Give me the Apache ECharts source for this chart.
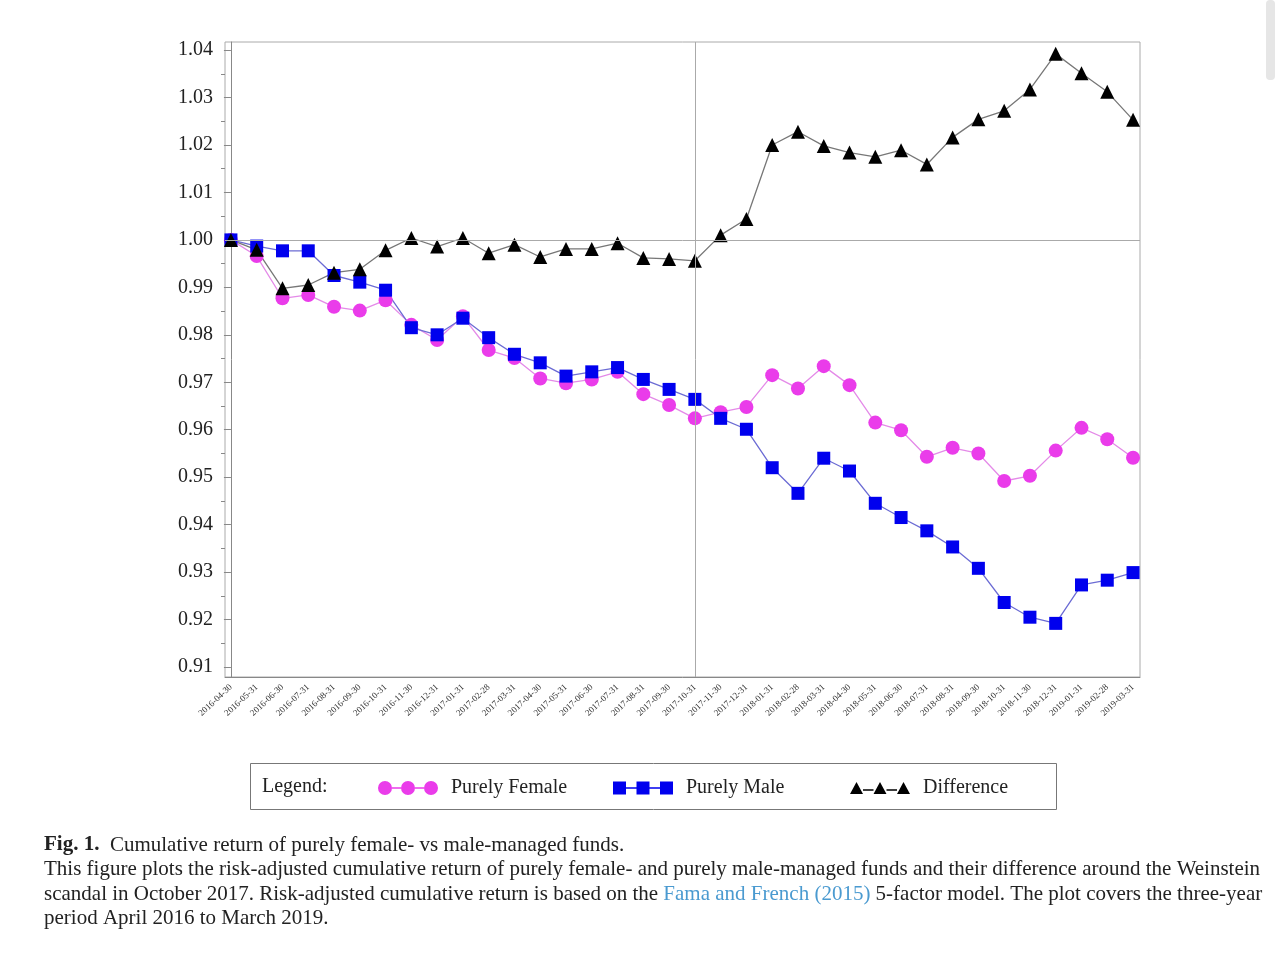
<!DOCTYPE html>
<html>
<head>
<meta charset="utf-8">
<script src="https://cdn.jsdelivr.net/npm/echarts@6/dist/echarts.min.js"></script>
<style>
html,body{margin:0;padding:0;background:#fff;}
#chart{width:1284px;height:968px;}
</style>
</head>
<body>
<div id="chart"></div>
<script>
const dates = ['2016-04-30','2016-05-31','2016-06-30','2016-07-31','2016-08-31','2016-09-30','2016-10-31','2016-11-30','2016-12-31',
  '2017-01-31','2017-02-28','2017-03-31','2017-04-30','2017-05-31','2017-06-30','2017-07-31','2017-08-31','2017-09-30','2017-10-31',
  '2017-11-30','2017-12-31','2018-01-31','2018-02-28','2018-03-31','2018-04-30','2018-05-31','2018-06-30','2018-07-31','2018-08-31',
  '2018-09-30','2018-10-31','2018-11-30','2018-12-31','2019-01-31','2019-02-28','2019-03-31'];

const femaleValues = [1.0000,0.9966,0.9877,0.9884,0.9859,0.9851,0.9873,0.9821,0.9789,
  0.9839,0.9768,0.9751,0.9708,0.9698,0.9706,0.9722,0.9675,0.9652,0.9624,
  0.9637,0.9648,0.9715,0.9687,0.9734,0.9694,0.9615,0.9599,0.9543,0.9562,
  0.9550,0.9492,0.9503,0.9556,0.9604,0.9580,0.9541];

const maleValues = [1.0000,0.9987,0.9977,0.9977,0.9925,0.9911,0.9894,0.9815,0.9800,
  0.9835,0.9794,0.9759,0.9741,0.9713,0.9722,0.9731,0.9706,0.9685,0.9664,
  0.9624,0.9601,0.9520,0.9466,0.9540,0.9513,0.9445,0.9415,0.9387,0.9353,
  0.9308,0.9236,0.9205,0.9192,0.9273,0.9283,0.9299];

const differenceValues = [1.0000,0.9979,0.9898,0.9905,0.9931,0.9938,0.9978,1.0004,0.9986,
  1.0004,0.9972,0.9990,0.9964,0.9981,0.9981,0.9993,0.9962,0.9960,0.9956,
  1.0010,1.0044,1.0200,1.0228,1.0198,1.0184,1.0175,1.0189,1.0159,1.0216,
  1.0254,1.0272,1.0317,1.0392,1.0351,1.0312,1.0253];

const yTickLabels = [0.91,0.92,0.93,0.94,0.95,0.96,0.97,0.98,0.99,1.00,1.01,1.02,1.03,1.04];
const yMinorTicks = [0.915,0.925,0.935,0.945,0.955,0.965,0.975,0.985,0.995,1.005,1.015,1.025,1.035];

const eventIndex = 18;   // 2017-10-31, Weinstein scandal
const baseline = 1.00;

const seriesNames = ['Purely Female','Purely Male','Difference'];

const serif = '"Liberation Serif", "Times New Roman", serif';
const yMin = 0.9079, yMax = 1.0417;

const chart = echarts.init(document.getElementById('chart'), null, {renderer:'canvas'});

const circlesIcon = 'path://M0,7a7,7 0 1,0 14,0a7,7 0 1,0 -14,0Z M23,7a7,7 0 1,0 14,0a7,7 0 1,0 -14,0Z M46,7a7,7 0 1,0 14,0a7,7 0 1,0 -14,0Z M14,6.3h9v1.4h-9Z M37,6.3h9v1.4h-9Z';
const squaresIcon = 'path://M0,0h13v13h-13Z M23.5,0h13v13h-13Z M47,0h13v13h-13Z M13,5.8h10.5v1.4h-10.5Z M36.5,5.8h10.5v1.4h-10.5Z';
const trianglesIcon = 'path://M0,12L6.5,0L13,12Z M23.5,12L30,0L36.5,12Z M47,12L53.5,0L60,12Z M13,7.3h10.5v1.4h-10.5Z M36.5,7.3h10.5v1.4h-10.5Z';

function legendFor(name, left, icon, h) {
  return {
    data: [{name: name, icon: icon}],
    left: left, top: 773,
    itemWidth: 60, itemHeight: h,
    selectedMode: false,
    textStyle: {fontFamily: serif, fontSize: 20, color: '#222', padding: [0,0,0,8]}
  };
}

const capFont = '21px ' + serif;

const option = {
  backgroundColor: '#fff',
  animation: false,
  grid: {left: 225, right: 144, top: 42, bottom: 291, show: true, borderColor: '#aaa', borderWidth: 1, backgroundColor: 'transparent'},
  xAxis: {
    type: 'value', min: -0.23, max: 35.27,
    axisLine: {show: true, lineStyle: {color: '#888', width: 1}},
    axisTick: {show: false},
    splitLine: {show: false},
    axisLabel: {
      customValues: dates.map((d, i) => i),
      formatter: v => dates[Math.round(v)],
      rotate: 43, margin: 9,
      fontFamily: serif, fontSize: 9, color: '#333'
    }
  },
  yAxis: [{
    type: 'value', min: yMin, max: yMax,
    axisLine: {show: true, lineStyle: {color: '#888', width: 1}},
    axisTick: {show: true, customValues: yTickLabels, length: 7, lineStyle: {color: '#888'}},
    splitLine: {show: false},
    axisLabel: {
      customValues: yTickLabels,
      formatter: v => v.toFixed(2),
      margin: 12, fontFamily: serif, fontSize: 20, color: '#222'
    }
  }, {
    type: 'value', min: yMin, max: yMax, position: 'left', offset: 0,
    axisLine: {show: false},
    axisTick: {show: true, customValues: yMinorTicks, length: 4, lineStyle: {color: '#888'}},
    axisLabel: {show: false},
    splitLine: {show: false}
  }],
  legend: [
    legendFor('Purely Female', 373, circlesIcon, 14),
    legendFor('Purely Male', 608, squaresIcon, 13),
    legendFor('Difference', 845, trianglesIcon, 12)
  ],
  series: [
    {
      name: seriesNames[0], type: 'line', yAxisIndex: 0,
      data: dates.map((d, i) => [i, femaleValues[i]]),
      symbol: 'circle', symbolSize: 14,
      itemStyle: {color: '#ea3cea'},
      lineStyle: {color: '#e48ae8', width: 1.3},
      markLine: {
        silent: true, symbol: 'none', label: {show: false},
        lineStyle: {color: '#aaa', type: 'solid', width: 1},
        data: [{xAxis: eventIndex}, {yAxis: baseline}]
      }
    },
    {
      name: seriesNames[1], type: 'line', yAxisIndex: 0,
      data: dates.map((d, i) => [i, maleValues[i]]),
      symbol: 'rect', symbolSize: 13,
      itemStyle: {color: '#0000ee'},
      lineStyle: {color: '#6c6cd4', width: 1.3}
    },
    {
      name: seriesNames[2], type: 'line', yAxisIndex: 0,
      data: dates.map((d, i) => [i, differenceValues[i]]),
      symbol: 'triangle', symbolSize: 14,
      itemStyle: {color: '#000'},
      lineStyle: {color: '#777', width: 1.3}
    }
  ],
  graphic: [
    {type: 'rect', shape: {x: 250.5, y: 763.5, width: 806, height: 46}, style: {fill: 'none', stroke: '#777', lineWidth: 1}, silent: true},
    {type: 'text', style: {x: 262, y: 787, text: 'Legend:', font: '20px ' + serif, fill: '#222', verticalAlign: 'middle'}, silent: true},
    {type: 'rect', shape: {x: 1266, y: 0, width: 9, height: 80, r: 4}, style: {fill: '#e6e6e6'}, silent: true},
    {type: 'text', style: {
      x: 44, y: 845, verticalAlign: 'middle',
      text: '{b|Fig. 1.}  Cumulative return of purely female- vs male-managed funds.',
      font: capFont, fill: '#222',
      rich: {b: {fontWeight: 'bold', fontFamily: serif, fontSize: 21, fill: '#222'}}
    }, silent: true},
    {type: 'text', style: {
      x: 44, y: 869, verticalAlign: 'middle',
      text: 'This figure plots the risk-adjusted cumulative return of purely female- and purely male-managed funds and their difference around the Weinstein',
      font: capFont, fill: '#222'
    }, silent: true},
    {type: 'text', style: {
      x: 44, y: 894, verticalAlign: 'middle',
      text: 'scandal in October 2017. Risk-adjusted cumulative return is based on the {l|Fama and French (2015)} 5-factor model. The plot covers the three-year',
      font: capFont, fill: '#222',
      rich: {l: {fontFamily: serif, fontSize: 21, fill: '#4a9ad0'}}
    }, silent: true},
    {type: 'text', style: {
      x: 44, y: 918, verticalAlign: 'middle',
      text: 'period April 2016 to March 2019.',
      font: capFont, fill: '#222'
    }, silent: true}
  ]
};
chart.setOption(option);
</script>
</body>
</html>
